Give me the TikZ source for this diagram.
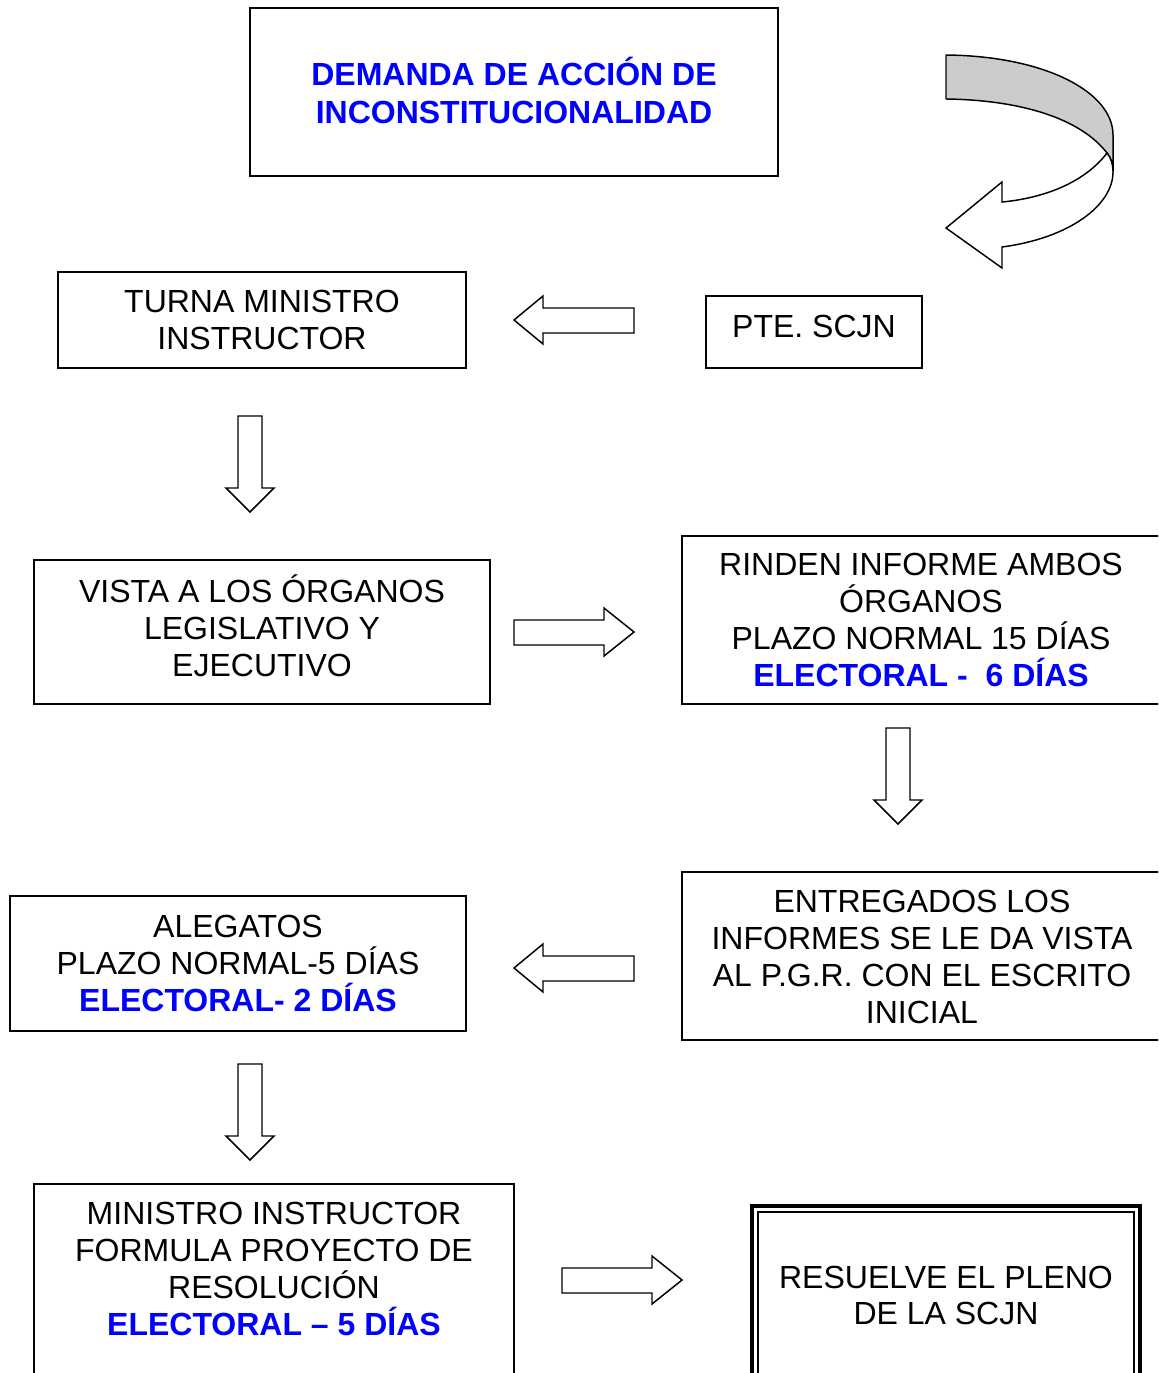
\documentclass[tikz,border=0pt]{standalone}
\usepackage{fontspec}
\setmainfont{Liberation Sans}
\usetikzlibrary{fit}
\begin{document}
\begin{tikzpicture}[x=0.75pt,y=-0.75pt,
  box/.style={draw,line width=1pt,inner sep=0pt},
  txt/.style={align=center,inner sep=0pt,font=\fontsize{24}{27.75}\selectfont},
  blk/.style={draw,line width=1.1pt,fill=white,line join=miter},
  hl/.style={text=blue,font=\bfseries}]
\useasboundingbox (0,0) rectangle (1158,1373);
\begin{scope}
\clip (0,0) rectangle (1158,1373);
% boxes
\node[box,fit={(250,8) (778,176)}] (b1) {};
\node[txt,text=blue,font=\fontsize{24}{28.5}\selectfont\bfseries] (t1) at (514,90) {DEMANDA DE ACCIÓN DE\\INCONSTITUCIONALIDAD};
\node[box,fit={(58,272) (466,368)}] (b2) {};
\node[txt] (t2) at (262,320) {TURNA MINISTRO\\INSTRUCTOR};
\node[box,fit={(706,296) (922,368)}] (b3) {};
\node[txt] (t3) at (814,326) {PTE. SCJN};
\node[box,fit={(34,560) (490,704)}] (b4) {};
\node[txt] (t4) at (262,626) {VISTA A LOS ÓRGANOS\\LEGISLATIVO Y\\EJECUTIVO};
\node[box,fit={(682,536) (1162,704)}] (b5) {};
\node[txt] (t5) at (921,620) {RINDEN INFORME AMBOS\\ÓRGANOS\\PLAZO NORMAL 15 DÍAS\\{\bfseries\color{blue}ELECTORAL -\ \ 6 DÍAS}};
\node[box,fit={(682,872) (1162,1040)}] (b6) {};
\node[txt] (t6) at (922,957) {ENTREGADOS LOS\\INFORMES SE LE DA VISTA\\AL P.G.R. CON EL ESCRITO\\INICIAL};
\node[box,fit={(10,896) (466,1031)}] (b7) {};
\node[txt] (t7) at (238,963) {ALEGATOS\\PLAZO NORMAL-5 DÍAS\\{\bfseries\color{blue}ELECTORAL- 2 DÍAS}};
\node[box,fit={(34,1184) (514,1400)}] (b8) {};
\node[txt] (t8) at (274,1269) {MINISTRO INSTRUCTOR\\FORMULA PROYECTO DE\\RESOLUCIÓN\\{\bfseries\color{blue}ELECTORAL – 5 DÍAS}};
\node[box,line width=2.4pt,fit={(752,1206) (1140,1400)}] (b9) {};
\node[box,line width=1.8pt,fit={(758,1212) (1134,1400)}] (b9i) {};
\node[txt,font=\fontsize{24}{27}\selectfont] (t9) at (946,1295) {RESUELVE EL PLENO\\DE LA SCJN};
% block arrows
\draw[blk] (514,320) -- (543,296) -- (543,308) -- (634,308) -- (634,333) -- (543,333) -- (543,344) -- cycle;
\draw[blk] (634,632) -- (604,608) -- (604,620) -- (514,620) -- (514,645) -- (604,645) -- (604,656) -- cycle;
\draw[blk] (514,968) -- (543,944) -- (543,956) -- (634,956) -- (634,981) -- (543,981) -- (543,992) -- cycle;
\draw[blk] (682,1280) -- (652,1256) -- (652,1268) -- (562,1268) -- (562,1293) -- (652,1293) -- (652,1304) -- cycle;
\draw[blk] (250,512) -- (226,488) -- (238,488) -- (238,416) -- (262,416) -- (262,488) -- (274,488) -- cycle;
\draw[blk] (898,824) -- (874,800) -- (886,800) -- (886,728) -- (910,728) -- (910,800) -- (922,800) -- cycle;
\draw[blk] (250,1160) -- (226,1136) -- (238,1136) -- (238,1064) -- (262,1064) -- (262,1136) -- (274,1136) -- cycle;
% curved arrow
\draw[line width=1.1pt,fill=black!20,line join=round]
  (946,55) .. controls (1045,56) and (1113,92) .. (1113,135) -- (1113,172)
  .. controls (1113,164) and (1111,158) .. (1107,153)
  .. controls (1080,118) and (1020,100) .. (946,99) -- cycle;
\draw[line width=1.1pt,fill=white,line join=miter]
  (1107,153) .. controls (1085,182) and (1045,198) .. (1002,202)
  -- (1002,182) -- (946,228) -- (1002,268) -- (1002,247)
  .. controls (1070,238) and (1113,205) .. (1113,172)
  .. controls (1113,164) and (1111,158) .. (1107,153) -- cycle;
\end{scope}
\end{tikzpicture}
\end{document}
